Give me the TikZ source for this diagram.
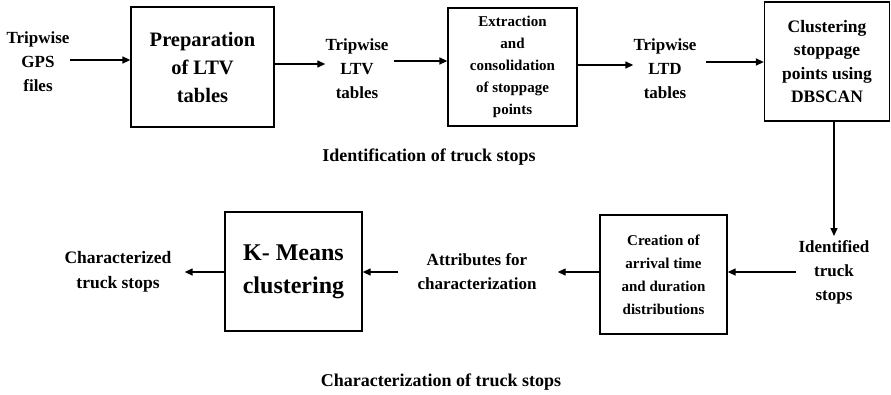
\documentclass[tikz,border=0pt]{standalone}
\usepackage{fontspec}
\setmainfont{Liberation Serif}
\usetikzlibrary{arrows.meta,positioning,calc}
\tikzset{
  box/.style={draw,line width=1.3pt,align=center,inner sep=0pt,font=\bfseries},
  lbl/.style={align=center,inner sep=0pt,font=\bfseries\fontsize{17}{24}\selectfont},
  ar/.style={-{Triangle[length=8pt,width=7pt]},line width=1.3pt},
}
\begin{document}
\begin{tikzpicture}[x=1pt,y=-1pt]
\useasboundingbox (0,0) rectangle (891,394);
% top row: identification
\node[lbl] (gps) at (38,62) {Tripwise\\GPS\\files};
\node[box,minimum width=143,minimum height=120,font=\bfseries\fontsize{20.5}{28}\selectfont] (prep) at (202.5,67) {Preparation\\of LTV\\tables};
\node[lbl] (ltv) at (357,69) {Tripwise\\LTV\\tables};
\node[box,minimum width=129,minimum height=118,font=\bfseries\fontsize{15}{22}\selectfont] (extr) at (512.5,67) {Extraction\\and\\consolidation\\of stoppage\\points};
\node[lbl] (ltd) at (665,69) {Tripwise\\LTD\\tables};
\node[box,minimum width=125,minimum height=119,font=\bfseries\fontsize{17.5}{23.5}\selectfont] (clus) at (827,61.5) {Clustering\\stoppage\\points using\\DBSCAN};
\node[lbl,font=\bfseries\fontsize{18}{24}\selectfont] (idt) at (429,157) {Identification of truck stops};
% bottom row: characterization
\node[lbl] (stops) at (834,272) {Identified\\truck\\stops};
\node[box,minimum width=127,minimum height=119,font=\bfseries\fontsize{15}{23}\selectfont] (creat) at (663.5,274.5) {Creation of\\arrival time\\and duration\\distributions};
\node[lbl] (attr) at (477,272) {Attributes for\\characterization};
\node[box,minimum width=137,minimum height=119,font=\bfseries\fontsize{24}{33}\selectfont] (km) at (293.5,271.5) {K- Means\\clustering};
\node[lbl,font=\bfseries\fontsize{17.5}{25}\selectfont] (chr) at (118,272) {Characterized\\truck stops};
\node[lbl,font=\bfseries\fontsize{18}{24}\selectfont] (cht) at (441,382) {Characterization of truck stops};
% connectors
\draw[ar] ([yshift=2pt]gps.east) -- ([yshift=2pt]gps.east -| prep.west);
\draw[ar] ([yshift=3pt]prep.east) -- ([yshift=3pt]prep.east -| ltv.west);
\draw[ar] ([xshift=5pt,yshift=8pt]ltv.east) -- ([yshift=8pt]ltv.east -| extr.west);
\draw[ar] ([yshift=2pt]extr.east) -- ([yshift=2pt]extr.east -| ltd.west);
\draw[ar] ([xshift=9pt,yshift=7pt]ltd.east) -- ([yshift=7pt]ltd.east -| clus.west);
\draw[ar] (stops.north |- clus.south) -- ([yshift=4pt]stops.north);
\draw[ar] ([xshift=-2pt]stops.west) -- (stops.west -| creat.east);
\draw[ar] (creat.west |- attr.east) -- ([xshift=21pt]attr.east);
\draw[ar] ([xshift=-19pt]attr.west) -- (attr.west -| km.east);
\draw[ar] (km.west |- chr.east) -- ([xshift=13pt]chr.east);
\end{tikzpicture}
\end{document}
